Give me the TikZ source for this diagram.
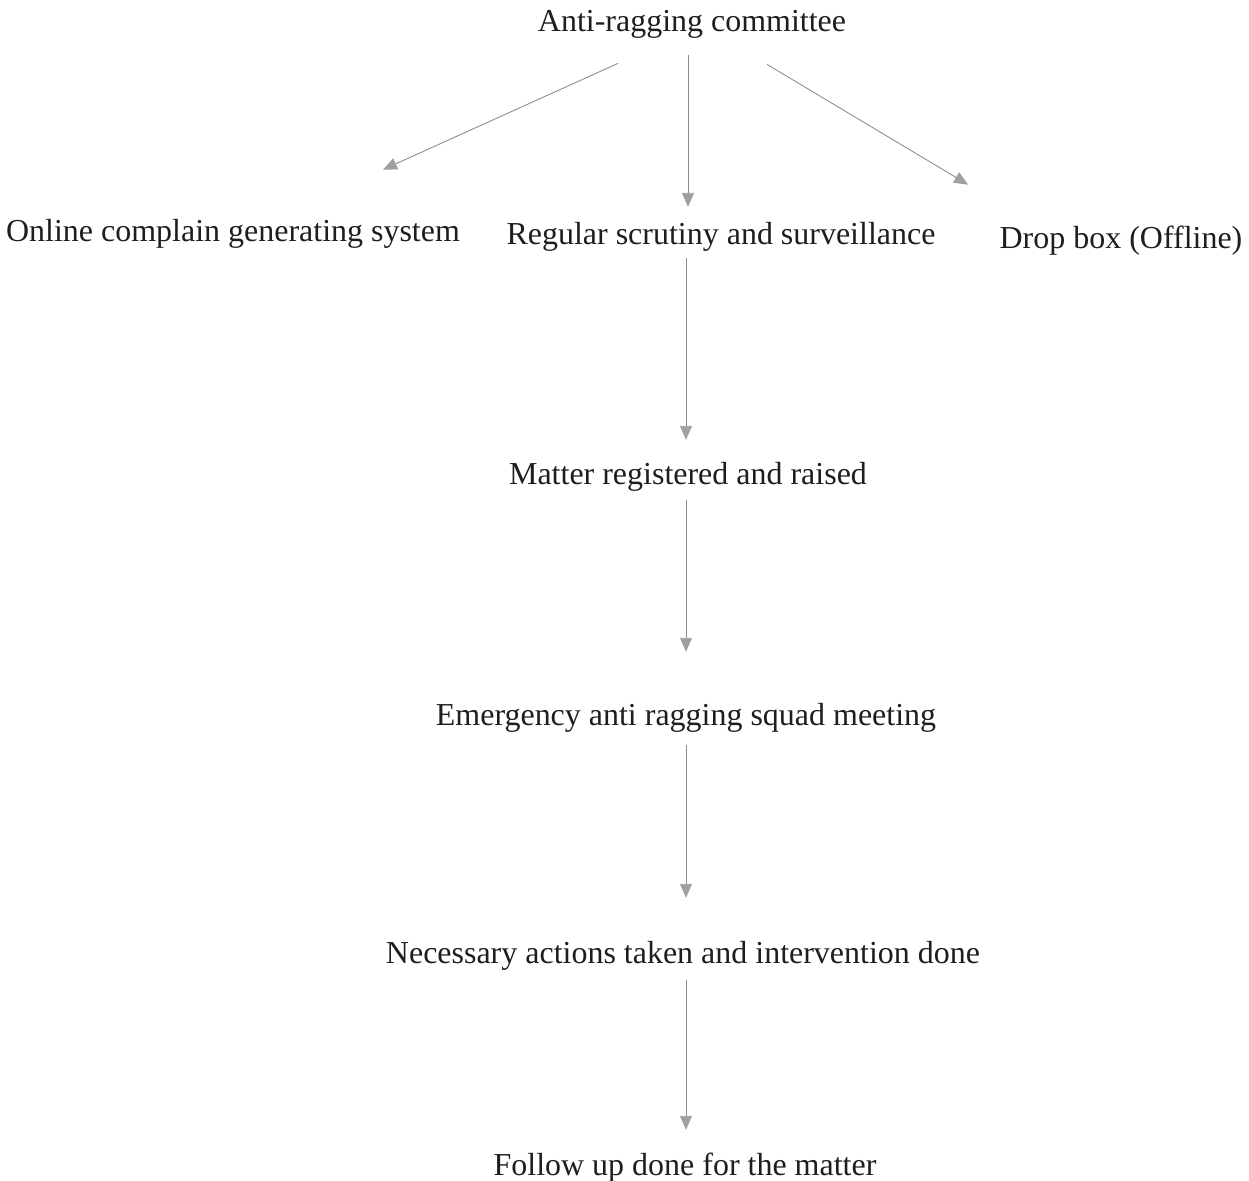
\documentclass[tikz,border=0pt]{standalone}
\usepackage{fontspec}
\setmainfont{Liberation Serif}
\usepackage{tikz}
\usetikzlibrary{arrows.meta}

\definecolor{arrowgray}{RGB}{140,140,140}
\definecolor{tipgray}{RGB}{160,160,160}
\definecolor{inkblack}{RGB}{30,30,30}

\begin{document}
\begin{tikzpicture}[x=0.02cm, y=-0.02cm,
    lbl/.style={anchor=base, inner sep=0pt, text height=13pt, text depth=4pt,
        text=inkblack, font=\fontsize{18.2}{22}\selectfont},
    arr/.style={arrowgray, line width=0.5pt,
        -{Triangle[width=0.24cm, length=0.28cm, color=tipgray, fill=tipgray]}}]

    \useasboundingbox (0,0) rectangle (1249,1181);

    \node[lbl] (committee) at (692,31) {Anti-ragging committee};
    \node[lbl] (online) at (233,241) {Online complain generating system};
    \node[lbl] (scrutiny) at (721,244) {Regular scrutiny and surveillance};
    \node[lbl] (dropbox) at (1121,248) {Drop box (Offline)};
    \node[lbl] (matter) at (688,484) {Matter registered and raised};
    \node[lbl] (squad) at (686,725) {Emergency anti ragging squad meeting};
    \node[lbl] (actions) at (683,963) {Necessary actions taken and intervention done};
    \node[lbl] (followup) at (685,1175) {Follow up done for the matter};

    \draw[arr] ([xshift=-1.48cm, yshift=-0.5cm]committee.south)
        -- ([xshift=3cm, yshift=0.964cm]online.north);
    \draw[arr, shorten <=0.34cm, shorten >=0.28cm]
        (matter.north |- committee.south) -- (matter.north |- scrutiny.north);
    \draw[arr] ([xshift=1.5cm, yshift=-0.52cm]committee.south)
        -- ([xshift=-3.06cm, yshift=0.804cm]dropbox.north);

    \draw[arr, shorten <=0.14cm, shorten >=0.42cm]
        (squad.north |- scrutiny.south) -- (matter.north -| squad.north);
    \draw[arr, shorten <=0.18cm, shorten >=1.0cm]
        (squad.north |- matter.south) -- (squad.north);
    \draw[arr, shorten <=0.26cm, shorten >=0.84cm]
        (squad.south) -- (squad.south |- actions.north);
    \draw[arr, shorten <=0.2cm, shorten >=0.44cm]
        (squad.south |- actions.south) -- (squad.south |- followup.north);

\end{tikzpicture}
\end{document}
